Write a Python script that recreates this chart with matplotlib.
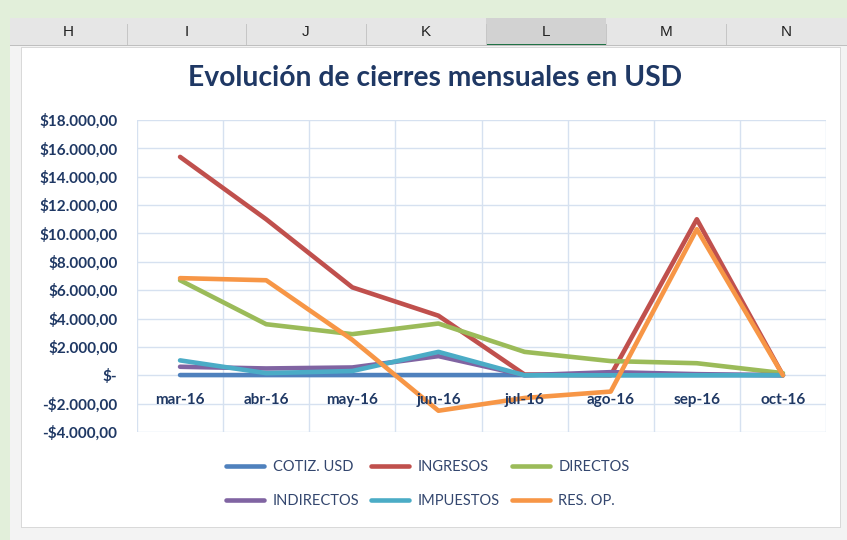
import numpy as np
import matplotlib.pyplot as plt
from matplotlib.patches import Rectangle
from matplotlib.ticker import FuncFormatter, MultipleLocator

months = ["mar-16", "abr-16", "may-16", "jun-16", "jul-16", "ago-16", "sep-16", "oct-16"]
cotiz_usd = [15, 14, 14, 14, 15, 15, 15, 15]
ingresos = [15400, 11000, 6200, 4200, 50, 0, 11000, 0]
directos = [6700, 3600, 2900, 3650, 1650, 1000, 850, 150]
indirectos = [600, 480, 550, 1350, 0, 220, 80, 0]
impuestos = [1050, 150, 300, 1650, 0, 0, 0, 0]
res_op = [6850, 6700, 2500, -2500, -1600, -1150, 10300, 0]

col_letters = ["H", "I", "J", "K", "L", "M", "N"]

navy = "#1F3864"
grid_c = "#D6E1F0"

plt.rcParams['font.family'] = ['Lato', 'DejaVu Sans']

fig = plt.figure(figsize=(8.47, 5.40), dpi=100)
W, H = 847, 540

def px_rect(x0, y0, x1, y1, color, z=0):
    fig.patches.append(Rectangle((x0 / W, 1 - y1 / H), (x1 - x0) / W, (y1 - y0) / H,
                                 transform=fig.transFigure, facecolor=color,
                                 edgecolor="none", zorder=z))

# spreadsheet background
px_rect(0, 0, W, H, "#F3F3F3", -10)
px_rect(0, 0, W, 18, "#E2EFDA", -9)
px_rect(0, 0, 10, H, "#E2EFDA", -9)
px_rect(10, 18, W, 46, "#E6E6E6", -8)
px_rect(486, 18, 606, 46, "#D2D2D2", -7)
px_rect(486, 44, 606, 46, "#217346", -6)
px_rect(10, 45, W, 46, "#BFBFBF", -6)
bounds = [10, 127, 246, 366, 486, 606, 726, 847]
for i, letter in enumerate(col_letters):
    fig.text((bounds[i] + bounds[i + 1]) / 2 / W, 1 - 32 / H, letter, ha="center",
             va="center", fontsize=11, color="#222222", family="Liberation Sans")
    if i > 0:
        px_rect(bounds[i] - 0.5, 24, bounds[i] + 0.5, 45, "#C6C6C6", -6)
px_rect(21, 47, 841, 528, "#D9D9D9", -5)
px_rect(22, 48, 840, 527, "white", -4)

ax = fig.add_axes([137 / W, 1 - 432 / H, (826 - 137) / W, (432 - 120) / H])
ax.set_facecolor("none")

x = np.arange(len(months))
series = [
    ("COTIZ. USD", cotiz_usd, "#4F81BD"),
    ("INGRESOS", ingresos, "#C0504D"),
    ("DIRECTOS", directos, "#9BBB59"),
    ("INDIRECTOS", indirectos, "#8064A2"),
    ("IMPUESTOS", impuestos, "#4BACC6"),
    ("RES. OP.", res_op, "#F79646"),
]
handles = {}
for name, vals, c in series:
    ln, = ax.plot(x, vals, color=c, lw=3.3, solid_capstyle="round",
                  solid_joinstyle="round", label=name, zorder=2)
    handles[name] = ln

ax.set_ylim(-4000, 18000)
ax.set_xlim(-0.5, len(months) - 0.5)
ax.yaxis.set_major_locator(MultipleLocator(2000))

def money(v, pos):
    if abs(v) < 1e-6:
        return "$-"
    s = f"{abs(v):,.2f}".replace(",", "X").replace(".", ",").replace("X", ".")
    return ("-$" if v < 0 else "$") + s

ax.yaxis.set_major_formatter(FuncFormatter(money))
ax.set_xticks(x)
ax.set_xticklabels(months)

# gridlines below the series, tick labels above them
for yv in np.arange(-4000, 18001, 2000):
    ax.axhline(yv, color=grid_c, lw=1, zorder=0.5)
for xv in np.arange(len(months) + 1) - 0.5:
    ax.axvline(xv, color=grid_c, lw=1, zorder=0.5)
ax.xaxis.set_zorder(5)

for s in ax.spines.values():
    s.set_visible(False)
ax.spines["bottom"].set_position(("data", 0))
ax.tick_params(axis="both", which="both", length=0)
ax.tick_params(axis="x", pad=13, labelsize=11, labelcolor=navy)
ax.tick_params(axis="y", pad=14, labelsize=11, labelcolor=navy)
for t in ax.get_xticklabels() + ax.get_yticklabels():
    t.set_fontweight("bold")

fig.text(435 / W, 1 - 78 / H, "Evolución de cierres mensuales en USD", ha="center",
         va="center", fontsize=20.3, fontweight="bold", color=navy)

order = ["COTIZ. USD", "INDIRECTOS", "INGRESOS", "IMPUESTOS", "DIRECTOS", "RES. OP."]
leg = fig.legend([handles[n] for n in order], order, ncol=3, loc="center",
                 bbox_to_anchor=(428 / W, 1 - 484 / H), frameon=False, fontsize=10.5,
                 handlelength=2.6, columnspacing=0.8, handletextpad=0.6, labelspacing=1.4)
for t in leg.get_texts():
    t.set_color("#33466E")

fig.savefig("out.png", dpi=100)
